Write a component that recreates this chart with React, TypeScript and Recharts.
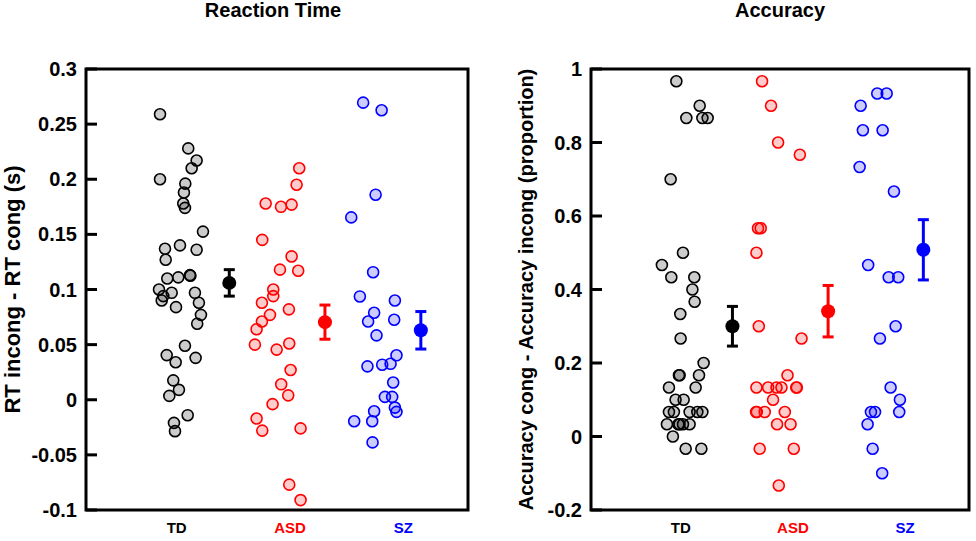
import { ScatterChart, Scatter, XAxis, YAxis, ErrorBar, Label, ReferenceArea } from 'recharts'

const CATS = ['TD', 'ASD', 'SZ']
const COLORS = ['#000000', '#ff0000', '#0000ff']
const X_DOMAIN = [0.2, 3.57]

// Reaction time: [jitter position, RT incong - RT cong]
const rtTD: [number, number][] = [
  [0.853, 0.259], [1.102, 0.228], [1.176, 0.217], [1.132, 0.21], [0.853, 0.2],
  [1.076, 0.196], [1.064, 0.188], [1.058, 0.178], [1.073, 0.174], [1.232, 0.1525],
  [0.897, 0.137], [1.029, 0.14], [1.176, 0.136], [0.903, 0.127], [0.917, 0.11],
  [1.014, 0.111], [1.117, 0.113], [1.121, 0.1125], [0.844, 0.1], [0.956, 0.097],
  [0.882, 0.094], [0.868, 0.09], [1.161, 0.097], [1.196, 0.088], [0.994, 0.084],
  [1.214, 0.077], [1.181, 0.069], [1.073, 0.049], [0.912, 0.0405], [0.991, 0.034],
  [1.167, 0.038], [0.97, 0.0176], [1.02, 0.009], [0.935, 0.0035], [1.097, -0.014],
  [0.976, -0.021], [0.985, -0.0285],
]
const rtASD: [number, number][] = [
  [2.081, 0.21], [2.058, 0.195], [1.785, 0.178], [1.92, 0.175], [2.014, 0.177],
  [1.755, 0.145], [2.014, 0.13], [1.911, 0.118], [2.072, 0.117], [1.852, 0.1],
  [1.852, 0.094], [1.752, 0.088], [1.99, 0.082], [1.823, 0.077], [1.752, 0.071],
  [1.705, 0.064], [1.69, 0.05], [1.882, 0.0455], [1.993, 0.051], [2.005, 0.027],
  [1.922, 0.014], [1.984, 0.004], [1.846, -0.004], [1.705, -0.017], [1.755, -0.028],
  [2.093, -0.026], [1.993, -0.077], [2.093, -0.091],
]
const rtSZ: [number, number][] = [
  [2.645, 0.2695], [2.808, 0.2626], [2.755, 0.186], [2.54, 0.1654], [2.733, 0.1157],
  [2.616, 0.0937], [2.925, 0.09], [2.742, 0.0789], [2.689, 0.071], [2.919, 0.0726],
  [2.763, 0.0584], [2.683, 0.0303], [2.813, 0.0318], [2.887, 0.0326], [2.939, 0.0403],
  [2.91, 0.0156], [2.837, 0.0026], [2.901, 0.0026], [2.925, -0.0071], [2.939, -0.011],
  [2.742, -0.0104], [2.725, -0.0195], [2.566, -0.0195], [2.728, -0.0387],
]
const rtMeanX = [1.464, 2.308, 3.154]
const rtMeans = [0.106, 0.0704, 0.063]
const rtErr = [0.012, 0.0155, 0.017]
const rtTicks = [-0.1, -0.05, 0, 0.05, 0.1, 0.15, 0.2, 0.25, 0.3]

// Accuracy: [jitter position, accuracy cong - accuracy incong]
const accTD: [number, number][] = [
  [0.961, 0.9667], [1.169, 0.9], [1.05, 0.8667], [1.193, 0.8667], [1.24, 0.8667],
  [0.91, 0.7], [1.02, 0.5], [0.832, 0.4667], [0.916, 0.4333], [1.121, 0.4333],
  [1.104, 0.4], [1.124, 0.3667], [0.996, 0.3333], [0.999, 0.2667], [1.204, 0.2],
  [0.984, 0.1667], [0.99, 0.1667], [1.163, 0.1667], [0.895, 0.1333], [1.133, 0.1333],
  [0.954, 0.1], [1.026, 0.1], [0.895, 0.0667], [0.939, 0.0667], [1.079, 0.0667],
  [1.148, 0.0667], [1.193, 0.0667], [0.877, 0.0333], [0.979, 0.0333], [0.989, 0.0333],
  [1.02, 0.0333], [1.079, 0.0333], [0.93, 0], [1.044, -0.0333], [1.184, -0.0333],
]
const accASD: [number, number][] = [
  [1.725, 0.9667], [1.805, 0.9], [1.868, 0.8], [2.062, 0.7667], [1.689, 0.5667],
  [1.713, 0.5667], [1.675, 0.5], [1.696, 0.3], [2.077, 0.2667], [1.952, 0.1667],
  [1.675, 0.1333], [1.779, 0.1333], [1.854, 0.1333], [1.898, 0.1333], [2.03, 0.1333],
  [2.035, 0.1333], [1.823, 0.1], [1.672, 0.0667], [1.678, 0.0667], [1.749, 0.0667],
  [1.928, 0.0667], [1.859, 0.0333], [1.979, 0.0333], [1.704, -0.0333], [2.008, -0.0333],
  [1.874, -0.1333],
]
const accSZ: [number, number][] = [
  [2.752, 0.9333], [2.836, 0.9333], [2.604, 0.9], [2.624, 0.8333], [2.8, 0.8333],
  [2.595, 0.7333], [2.901, 0.6667], [2.671, 0.4667], [2.854, 0.4333], [2.939, 0.4333],
  [2.916, 0.3], [2.776, 0.2667], [2.871, 0.1333], [2.954, 0.1], [2.948, 0.0667],
  [2.696, 0.0667], [2.732, 0.0667], [2.666, 0.0333], [2.711, -0.0333], [2.796, -0.1],
]
const accMeanX = [1.461, 2.314, 3.163]
const accMeans = [0.3, 0.341, 0.508]
const accErr = [0.054, 0.07, 0.082]
const accTicks = [-0.2, 0, 0.2, 0.4, 0.6, 0.8, 1]

const FONT = '"Liberation Sans", Arial, Helvetica, sans-serif'
const TICK_LEN = 11

const ring = (color: string) => (p: any) => (
  <circle cx={p.cx} cy={p.cy} r={5.5} fill={color} fillOpacity={0.2} stroke={color} strokeWidth={1.6} />
)
const meanDot = (color: string) => (p: any) => <circle cx={p.cx} cy={p.cy} r={7} fill={color} />

const CatTick = (props: any) => {
  const { x, y, payload } = props
  const i = Math.round(payload.value) - 1
  return (
    <text x={x} y={y} dy={15} textAnchor="middle" fill={COLORS[i]} fontSize={15} fontWeight="bold">
      {CATS[i]}
    </text>
  )
}

// left axis: label plus an inward tick (tickMargin 9, tickSize 0)
const LeftTick = (props: any) => {
  const { x, y, payload } = props
  return (
    <g>
      <line x1={x + 9} x2={x + 9 + TICK_LEN} y1={y} y2={y} stroke="#000" strokeWidth={3} />
      <text x={x} y={y} dy={7} textAnchor="end" fill="#000" fontSize={20} fontWeight="bold">
        {String(payload.value)}
      </text>
    </g>
  )
}

// right axis: inward tick only (tickMargin 0, tickSize 0)
const RightTick = (props: any) => {
  const { x, y } = props
  return <line x1={x - TICK_LEN} x2={x} y1={y} y2={y} stroke="#000" strokeWidth={3} />
}

const Frame = (p: any) => (
  <rect x={p.x} y={p.y} width={p.width} height={p.height} fill="none" stroke="#000" strokeWidth={3} />
)

interface PanelProps {
  groups: [number, number][][]
  meanX: number[]
  means: number[]
  errs: number[]
  domain: number[]
  ticks: number[]
  yLabel: string
  labelSize: number
  yAxisWidth: number
  right: number
  labelOffset: number
}

function Panel({ groups, meanX, means, errs, domain, ticks, yLabel, labelSize, yAxisWidth, right, labelOffset }: PanelProps) {
  const meanData = means.map((m, i) => ({ x: meanX[i], y: m, err: errs[i] }))
  return (
    <ScatterChart width={488} height={541} margin={{ top: 69, right, bottom: 0, left: 0 }}>
      <XAxis
        type="number" dataKey="x" domain={X_DOMAIN} ticks={[1, 2, 3]} interval={0}
        tick={<CatTick />} tickLine={false} axisLine={false} height={31}
      />
      <YAxis
        type="number" dataKey="y" domain={domain} ticks={ticks} interval={0} width={yAxisWidth}
        tickSize={0} tickMargin={9} tickLine={false} axisLine={false} tick={<LeftTick />}
      >
        <Label
          value={yLabel} angle={-90} position="insideLeft" offset={labelOffset}
          style={{ textAnchor: 'middle', fill: '#000', fontSize: labelSize, fontWeight: 'bold' }}
        />
      </YAxis>
      <YAxis
        yAxisId="right" orientation="right" type="number" dataKey="y" domain={domain} ticks={ticks}
        interval={0} width={0} tickSize={0} tickMargin={0} tickLine={false} axisLine={false} tick={<RightTick />}
      />
      <ReferenceArea
        x1={X_DOMAIN[0]} x2={X_DOMAIN[1]} y1={domain[0]} y2={domain[1]} shape={Frame} ifOverflow="visible"
      />
      {groups.map((g, i) => (
        <Scatter
          key={CATS[i]} data={g.map(([x, y]) => ({ x, y }))}
          shape={ring(COLORS[i])} isAnimationActive={false}
        />
      ))}
      {meanData.map((d, i) => (
        <Scatter key={'m' + i} data={[d]} shape={meanDot(COLORS[i])} isAnimationActive={false}>
          <ErrorBar dataKey="err" direction="y" width={5.5} strokeWidth={3} stroke={COLORS[i]} />
        </Scatter>
      ))}
      <Scatter yAxisId="right" data={meanData} shape={() => <g />} isAnimationActive={false} />
    </ScatterChart>
  )
}

export default function App() {
  return (
    <div style={{ position: 'absolute', left: 0, top: 0, width: 976, height: 541, fontFamily: FONT, fontWeight: 'bold', background: '#fff' }}>
      <svg width={976} height={30} style={{ position: 'absolute', left: 0, top: 0 }}>
        <text x={273} y={17} textAnchor="middle" fontSize={20} fontWeight="bold" fill="#000">Reaction Time</text>
        <text x={780} y={17} textAnchor="middle" fontSize={20} fontWeight="bold" fill="#000">Accuracy</text>
      </svg>
      <div style={{ position: 'absolute', left: 0, top: 0 }}>
        <Panel
          groups={[rtTD, rtASD, rtSZ]} meanX={rtMeanX} means={rtMeans} errs={rtErr}
          domain={[-0.1, 0.3]} ticks={rtTicks} yLabel="RT incong - RT cong (s)" labelSize={22}
          yAxisWidth={86} right={20} labelOffset={12}
        />
      </div>
      <div style={{ position: 'absolute', left: 488, top: 0 }}>
        <Panel
          groups={[accTD, accASD, accSZ]} meanX={accMeanX} means={accMeans} errs={accErr}
          domain={[-0.2, 1]} ticks={accTicks} yLabel="Accuracy cong - Accuracy incong (proportion)" labelSize={20}
          yAxisWidth={103} right={7} labelOffset={38}
        />
      </div>
    </div>
  )
}
